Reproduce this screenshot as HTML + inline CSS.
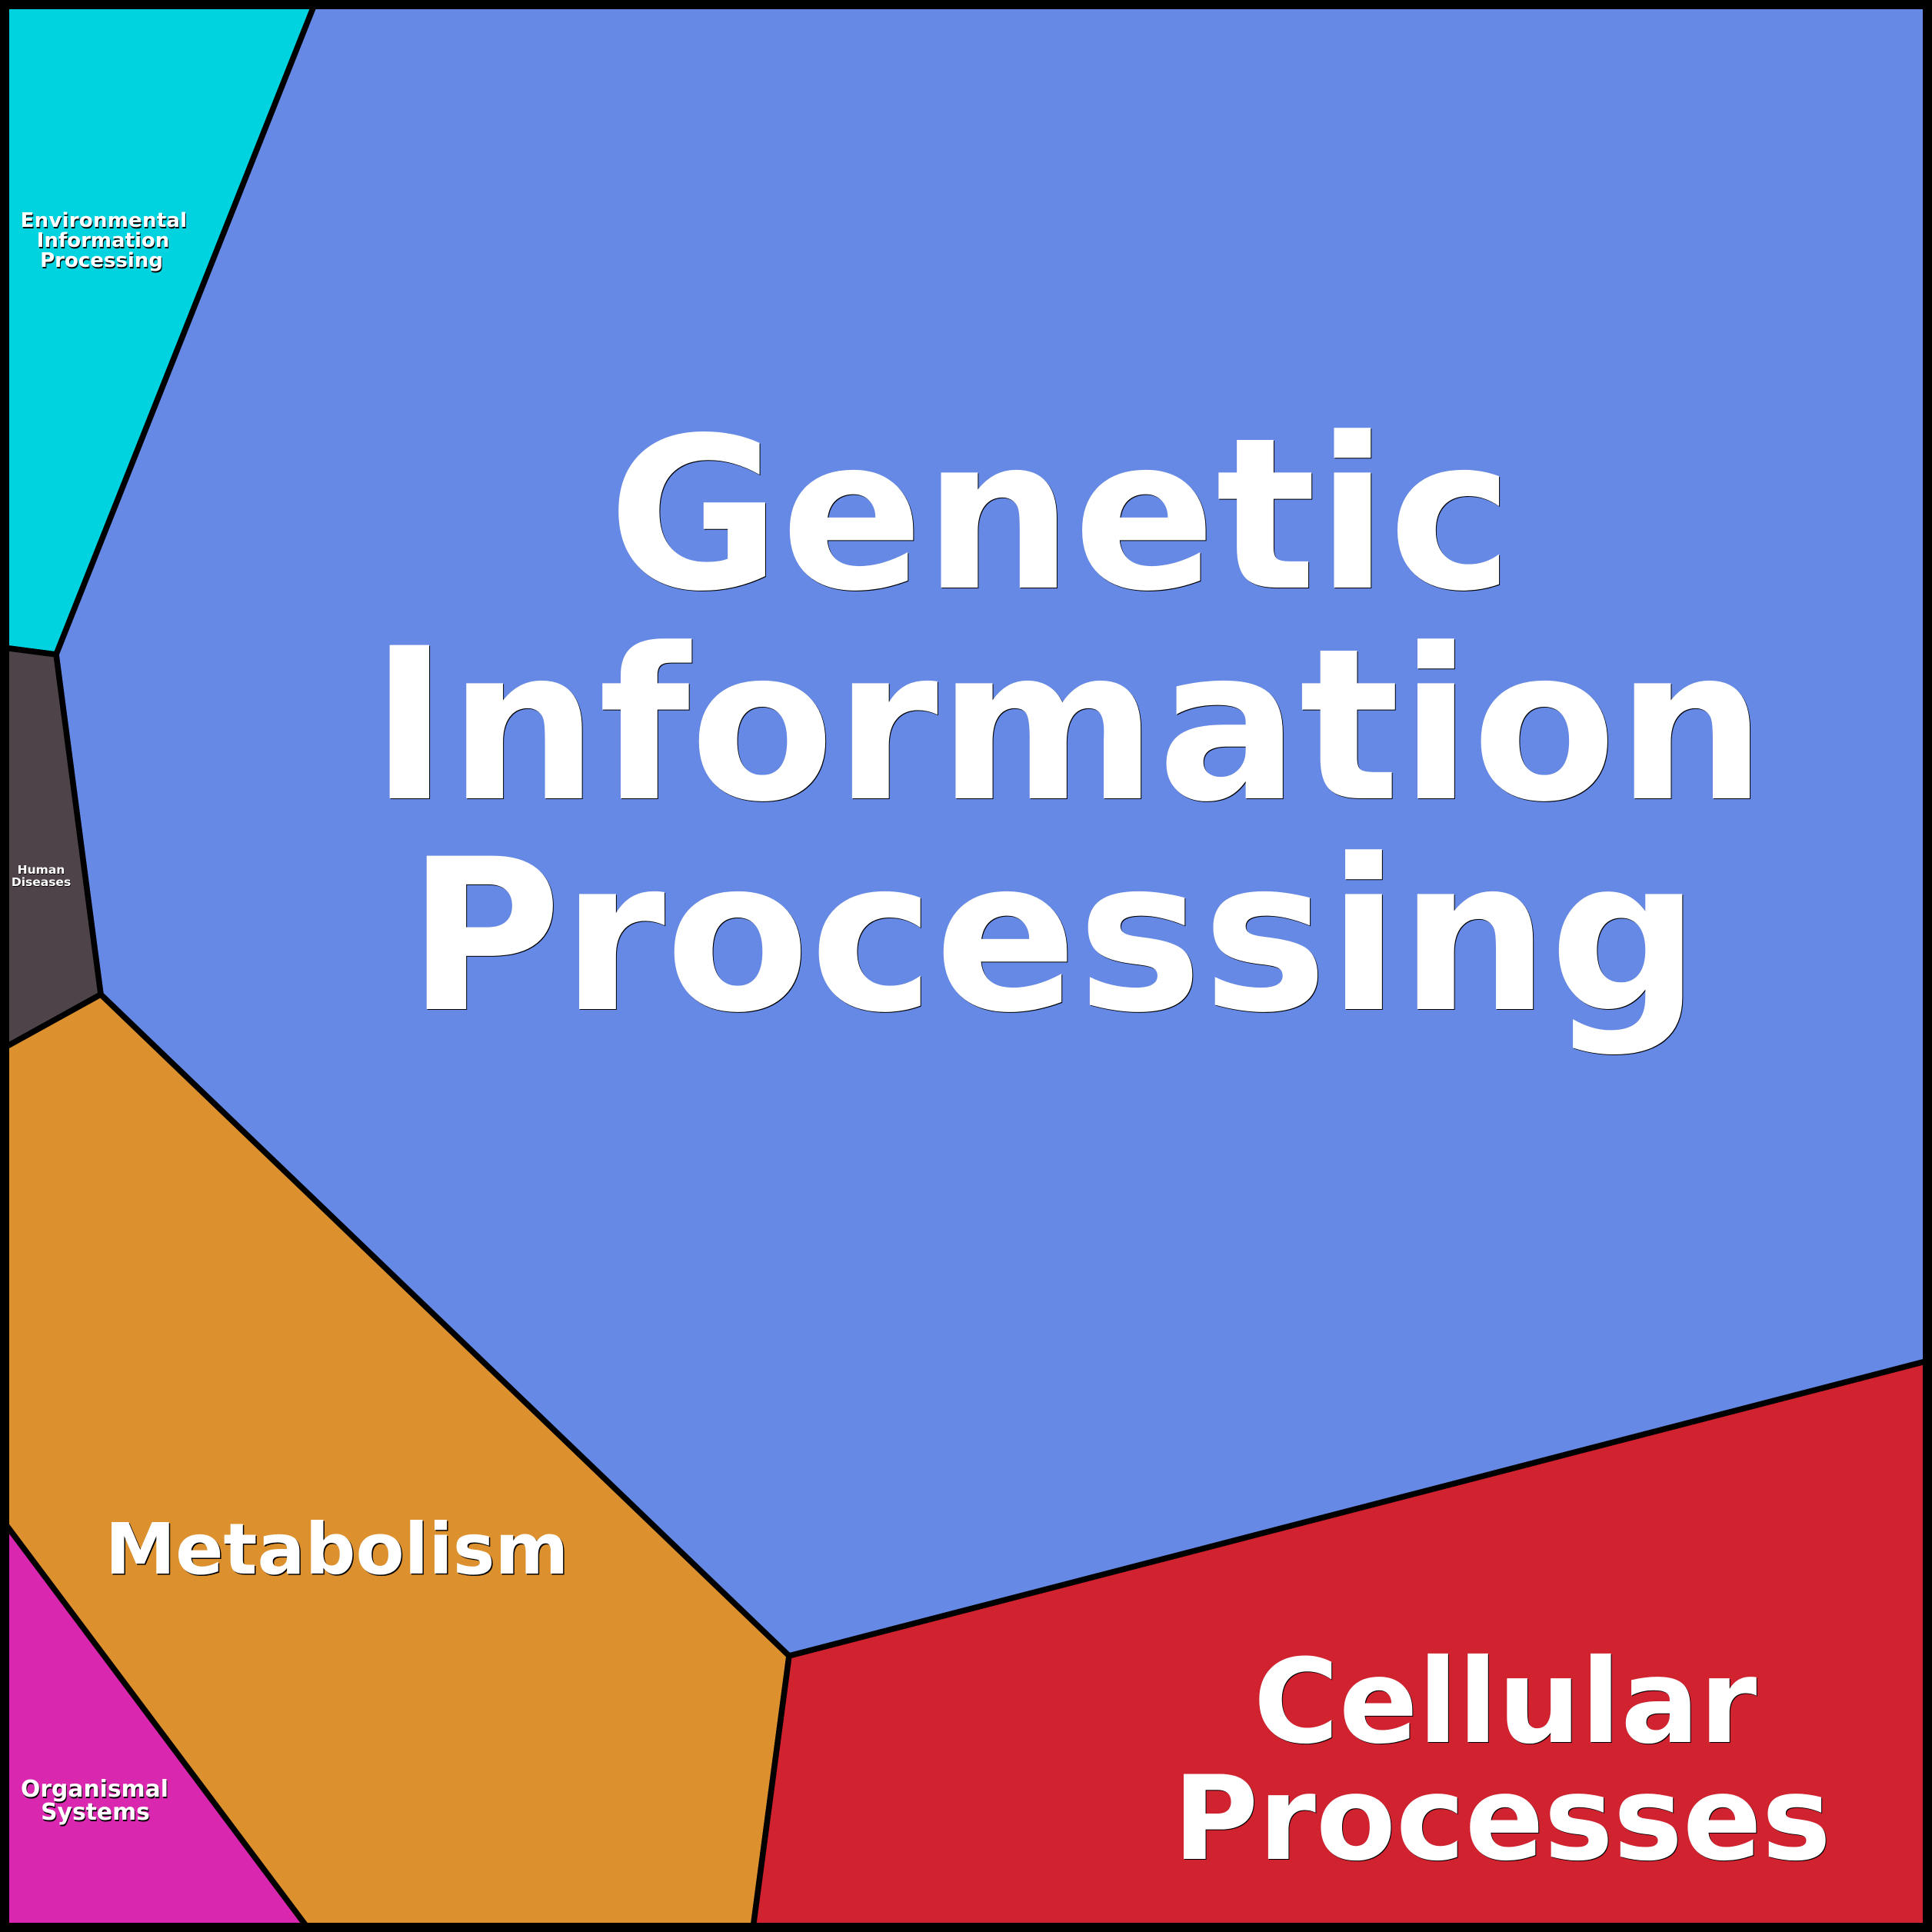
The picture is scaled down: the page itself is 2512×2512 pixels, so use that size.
<!DOCTYPE html>
<html><head><meta charset="utf-8"><style>
html,body{margin:0;padding:0;background:#000}
svg{display:block}
text{font-family:"DejaVu Sans",sans-serif;font-weight:700;text-anchor:middle}
.s{fill:#000}.w{fill:#fff}
</style></head><body>
<svg xmlns="http://www.w3.org/2000/svg" width="2512" height="2512" viewBox="0 0 2512 2512">
<rect width="2512" height="2512" fill="#000"/>
<g stroke="#000" stroke-width="7.5" stroke-linejoin="miter">
<polygon points="8,8 408,8 73,851 8,842.5" fill="#00d3e0"/>
<polygon points="408,8 2504,8 2504,1770 1026,2153 131,1293 73,851" fill="#6589e4"/>
<polygon points="8,842.5 73,851 131,1293 8,1361" fill="#4d4349"/>
<polygon points="8,1361 131,1293 1026,2153 979.5,2504 398,2504 8,1982.7" fill="#dc912e"/>
<polygon points="1026,2153 2504,1770 2504,2504 979.5,2504" fill="#d12230"/>
<polygon points="8,1982.7 398,2504 8,2504" fill="#da27b0"/>
</g>
<rect x="6" y="6" width="2500" height="2500" fill="none" stroke="#000" stroke-width="12"/>
<g font-size="273.5">
<text class="s" x="1380" y="765">Genetic</text><text class="w" x="1379" y="764">Genetic</text>
<text class="s" x="1390" y="1039">Information</text><text class="w" x="1389" y="1038">Information</text>
<text class="s" x="1371" y="1313">Processing</text><text class="w" x="1370" y="1312">Processing</text>
</g>
<g font-size="151.5">
<text class="s" x="1958" y="2266">Cellular</text><text class="w" x="1957" y="2265">Cellular</text>
<text class="s" x="1954" y="2418">Processes</text><text class="w" x="1953" y="2417">Processes</text>
</g>
<g font-size="92">
<text class="s" x="439.5" y="2047.5">Metabolism</text><text class="w" x="438" y="2046">Metabolism</text>
</g>
<g font-size="26">
<text class="s" x="136" y="297" letter-spacing="0.25">Environmental</text><text class="w" x="135" y="295" letter-spacing="0.25">Environmental</text>
<text class="s" x="135" y="323">Information</text><text class="w" x="134" y="321">Information</text>
<text class="s" x="133" y="349">Processing</text><text class="w" x="132" y="347">Processing</text>
</g>
<g font-size="29.8">
<text class="s" x="124" y="2338">Organismal</text><text class="w" x="123" y="2336">Organismal</text>
<text class="s" x="125" y="2368">Systems</text><text class="w" x="124" y="2366">Systems</text>
</g>
<g font-size="15.5">
<text class="s" x="54" y="1137">Human</text><text class="w" x="53.5" y="1136">Human</text>
<text class="s" x="54" y="1153">Diseases</text><text class="w" x="53.5" y="1152">Diseases</text>
</g>
</svg>
</body></html>
